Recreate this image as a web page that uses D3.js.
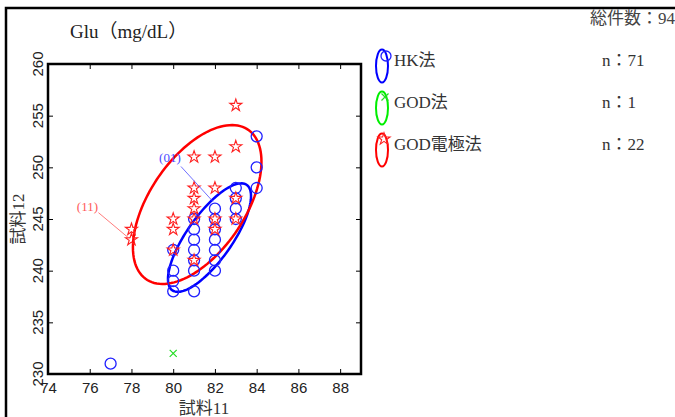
<!DOCTYPE html>
<html>
<head>
<meta charset="utf-8">
<script src="https://cdn.jsdelivr.net/npm/d3@7"></script>
<style>
  body { margin: 0; background: #fff; }
  svg { display: block; }
</style>
</head>
<body>
<svg id="chart" width="675" height="417"></svg>
<script>
// data
const xTicks = [74, 76, 78, 80, 82, 84, 86, 88];
const yTicks = [230, 235, 240, 245, 250, 255, 260];

// HK法 (blue circles)
const hkPoints = [
  [77, 231],
  [80, 242], [80, 240], [80, 239], [80, 238],
  [81, 245], [81, 244], [81, 243], [81, 242], [81, 241], [81, 240], [81, 238],
  [82, 246], [82, 245], [82, 244], [82, 243], [82, 242], [82, 241], [82, 240],
  [83, 248], [83, 247], [83, 246], [83, 245],
  [84, 253], [84, 250], [84, 248]
];
// GOD法 (green x)
const godPoints = [[80, 232]];
// GOD電極法 (red stars)
const godElPoints = [
  [78, 244], [78, 243],
  [80, 245], [80, 244], [80, 242],
  [81, 251], [81, 248], [81, 247], [81, 246], [81, 245], [81, 241],
  [82, 251], [82, 248], [82, 245], [82, 244],
  [83, 256], [83, 252], [83, 247], [83, 245]
];
// ellipses: center x, center y, spread x, spread y, correlation
const hkEllipse = [81.74, 243.2, 1.99, 5.25, 0.764];
const godElEllipse = [81.15, 246.4, 3.08, 7.69, 0.54];

const legendNames = ["HK法", "GOD法", "GOD電極法"];
const legendCounts = [71, 1, 22];
const totalCount = 94;

// sample labels (label, point x, point y)
const notes = [
  { label: "(01)", px: 82, py: 246.6, color: "#4b4bff" },
  { label: "(11)", px: 78, py: 243, color: "#ff5a5a" }
];

const svg = d3.select("#chart");
const serif = "'Liberation Serif', 'DejaVu Serif', 'Noto Sans CJK JP', serif";
const sans = "'Liberation Sans', Arial, sans-serif";

const x = d3.scaleLinear().domain([74, 89]).range([48, 361]);
const y = d3.scaleLinear().domain([230, 260]).range([374, 64]);

// outer frame
svg.append("rect")
  .attr("x", 6).attr("y", 8).attr("width", 720).attr("height", 440)
  .attr("fill", "none").attr("stroke", "#000").attr("stroke-width", 2.5);

// title
svg.append("text").attr("x", 70).attr("y", 38)
  .attr("font-family", serif).attr("font-size", 19).attr("fill", "#222")
  .text("Glu（mg/dL）");

svg.append("text").attr("x", 590).attr("y", 24)
  .attr("font-family", serif).attr("font-size", 17).attr("fill", "#444")
  .text("総件数：" + totalCount);

// axes with inward ticks
const axB = svg.append("g").attr("transform", "translate(0,374)")
  .call(d3.axisBottom(x).tickValues(xTicks).tickSizeInner(-5).tickSizeOuter(0).tickPadding(8));
const axT = svg.append("g").attr("transform", "translate(0,64)")
  .call(d3.axisTop(x).tickValues(xTicks).tickSizeInner(-5).tickSizeOuter(0).tickFormat(""));
const axL = svg.append("g").attr("transform", "translate(48,0)")
  .call(d3.axisLeft(y).tickValues(yTicks).tickSizeInner(-5).tickSizeOuter(0).tickFormat(""));
const axR = svg.append("g").attr("transform", "translate(361,0)")
  .call(d3.axisRight(y).tickValues(yTicks).tickSizeInner(-5).tickSizeOuter(0).tickFormat(""));
[axB, axT, axL, axR].forEach(function(a) {
  a.select(".domain").remove();
  a.selectAll(".tick line").attr("stroke", "#000").attr("stroke-width", 1);
});
axB.selectAll(".tick text")
  .attr("font-family", sans).attr("font-size", 15).attr("fill", "#222")
  .attr("dy", "0.71em");

// y tick labels rotated
svg.append("g").selectAll("text")
  .data(yTicks).enter().append("text")
  .attr("transform", function(d) { return "translate(43," + y(d) + ") rotate(-90)"; })
  .attr("text-anchor", "middle")
  .attr("font-family", sans).attr("font-size", 15).attr("fill", "#222")
  .text(function(d) { return d; });

// axis titles
svg.append("text").attr("x", 204).attr("y", 414).attr("text-anchor", "middle")
  .attr("font-family", serif).attr("font-size", 17).attr("fill", "#333")
  .text("試料11");
svg.append("text").attr("transform", "translate(24,219) rotate(-90)").attr("text-anchor", "middle")
  .attr("font-family", serif).attr("font-size", 17).attr("fill", "#333")
  .text("試料12");

// ellipses
function ellipsePath(e) {
  const pts = d3.range(0, 361, 3).map(function(deg) {
    const t = deg * Math.PI / 180;
    const ex = e[0] + e[2] * Math.cos(t);
    const ey = e[1] + e[3] * (e[4] * Math.cos(t) + Math.sqrt(1 - e[4] * e[4]) * Math.sin(t));
    return [x(ex), y(ey)];
  });
  return d3.line()(pts) + "Z";
}
svg.append("path").attr("d", ellipsePath(hkEllipse))
  .attr("fill", "none").attr("stroke", "#0000ff").attr("stroke-width", 2.5);
svg.append("path").attr("d", ellipsePath(godElEllipse))
  .attr("fill", "none").attr("stroke", "#ff0000").attr("stroke-width", 2.5);

// points
svg.append("g").selectAll("circle")
  .data(hkPoints).enter().append("circle")
  .attr("cx", function(d) { return x(d[0]); })
  .attr("cy", function(d) { return y(d[1]); })
  .attr("r", 5.5)
  .attr("fill", "none").attr("stroke", "#2020ff").attr("stroke-width", 1.3);

const star = d3.symbol().type(d3.symbolStar).size(45);
svg.append("g").selectAll("path")
  .data(godElPoints).enter().append("path")
  .attr("d", star)
  .attr("transform", function(d) { return "translate(" + x(d[0]) + "," + y(d[1]) + ")"; })
  .attr("fill", "none").attr("stroke", "#ff2020").attr("stroke-width", 1.1);

const cross = d3.symbol().type(d3.symbolX).size(34);
svg.append("g").selectAll("path")
  .data(godPoints).enter().append("path")
  .attr("d", cross)
  .attr("transform", function(d) { return "translate(" + x(d[0]) + "," + y(d[1]) + ")"; })
  .attr("fill", "none").attr("stroke", "#22dd22").attr("stroke-width", 1.2);

// sample notes
const noteOff = [[-34, -36], [-33, -27]];
const textOff = [[-11, -4], [-11, -2]];
notes.forEach(function(n, i) {
  const px = x(n.px), py = y(n.py);
  const lx = px + noteOff[i][0], ly = py + noteOff[i][1];
  svg.append("line").attr("x1", lx).attr("y1", ly).attr("x2", px - 2).attr("y2", py - 1)
    .attr("stroke", n.color).attr("stroke-width", 0.8);
  svg.append("text").attr("x", lx + textOff[i][0]).attr("y", ly + textOff[i][1]).attr("text-anchor", "middle")
    .attr("font-family", serif).attr("font-size", 13).attr("fill", n.color)
    .text(n.label);
});

// plot frame
svg.append("rect").attr("x", 48).attr("y", 64).attr("width", 313).attr("height", 310)
  .attr("fill", "none").attr("stroke", "#000").attr("stroke-width", 2.5);

// legend
const legColors = ["#0000ff", "#00ee00", "#ff0000"];
const legY = [66, 108, 150];
legendNames.forEach(function(name, i) {
  const g = svg.append("g");
  g.append("ellipse").attr("cx", 382).attr("cy", legY[i]).attr("rx", 6).attr("ry", 16.5)
    .attr("fill", "none").attr("stroke", legColors[i]).attr("stroke-width", 2);
  if (i === 0) {
    g.append("circle").attr("cx", 386).attr("cy", legY[i] - 10).attr("r", 5)
      .attr("fill", "none").attr("stroke", "#2020ff").attr("stroke-width", 1.3);
  } else if (i === 1) {
    g.append("path").attr("d", cross).attr("transform", "translate(385," + (legY[i] - 11) + ")")
      .attr("fill", "none").attr("stroke", "#22dd22").attr("stroke-width", 1.2);
  } else {
    g.append("path").attr("d", star).attr("transform", "translate(384," + (legY[i] - 11) + ")")
      .attr("fill", "none").attr("stroke", "#ff2020").attr("stroke-width", 1.1);
  }
  g.append("text").attr("x", 394).attr("y", legY[i])
    .attr("font-family", serif).attr("font-size", 17).attr("fill", "#333")
    .text(name);
  g.append("text").attr("x", 602).attr("y", legY[i])
    .attr("font-family", serif).attr("font-size", 17).attr("fill", "#333")
    .text("n：" + legendCounts[i]);
});
</script>
</body>
</html>
